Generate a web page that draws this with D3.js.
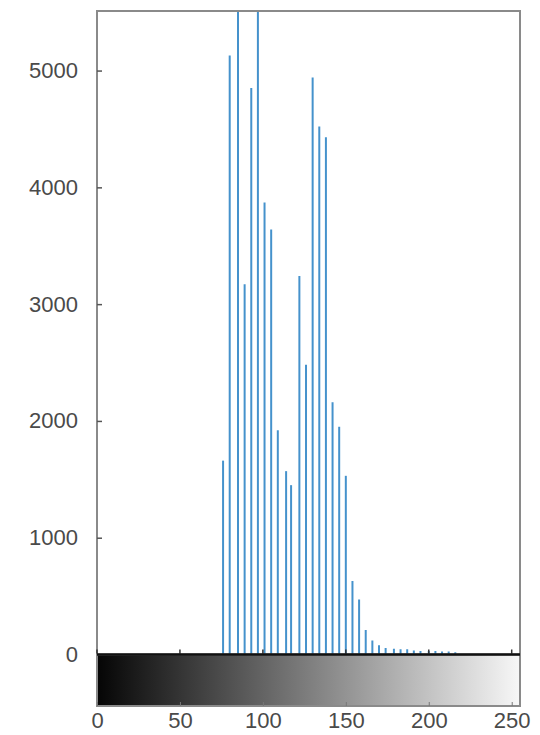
<!DOCTYPE html>
<html>
<head>
<meta charset="utf-8">
<script src="https://cdn.jsdelivr.net/npm/d3@7"></script>
<style>
  html, body { margin: 0; padding: 0; background: #fff; }
  svg { display: block; }
</style>
</head>
<body>
<div id="chart"></div>
<script>
// Histogram values (gray level -> pixel count)
const grayLevels = [76, 80, 85, 89, 93, 97, 101, 105, 109, 114, 117, 122, 126, 130, 134, 138, 142, 146,
  150, 154, 158, 162, 166, 170, 174, 179, 183, 187, 191, 195, 200, 204, 208, 212, 216];
const pixelCounts = [1660, 5130, 5900, 3170, 4850, 5800, 3870, 3640, 1920, 1570, 1450, 3240, 2480, 4940,
  4520, 4430, 2160, 1950, 1530, 630, 470, 210, 120, 80, 55, 50, 45, 45, 35, 30, 30, 30, 25, 25, 20];
const yTicks = [0, 1000, 2000, 3000, 4000, 5000];
const xTicks = [0, 50, 100, 150, 200, 250];

const width = 540;
const height = 735;
const plotLeft = 97, plotRight = 520;
const plotTop = 11, zeroY = 654.5;
const barBottom = 706;

const textColor = "#4a4a4a";
const frameColor = "#8a8a8a";
const stemColor = "#4592cc";

const svg = d3.select("#chart")
  .append("svg")
  .attr("width", width)
  .attr("height", height)
  .style("font-family", "'Liberation Sans', Arial, sans-serif");

// Scales
const x = d3.scaleLinear().domain([0, 255]).range([plotLeft, plotRight]);
const y = d3.scaleLinear().domain([0, 5510]).range([zeroY, plotTop]);

// Clip for stems that run past the top
const defs = svg.append("defs");
defs.append("clipPath")
  .attr("id", "plot-clip")
  .append("rect")
  .attr("x", plotLeft)
  .attr("y", plotTop)
  .attr("width", plotRight - plotLeft)
  .attr("height", zeroY - plotTop);

// Gray ramp for the colorbar
const grad = defs.append("linearGradient")
  .attr("id", "gray-ramp")
  .attr("x1", "0%").attr("x2", "100%")
  .attr("y1", "0%").attr("y2", "0%");
grad.append("stop").attr("offset", "0%").attr("stop-color", "#050505");
grad.append("stop").attr("offset", "100%").attr("stop-color", "#f7f7f7");

// Stems
svg.append("g")
  .attr("clip-path", "url(#plot-clip)")
  .selectAll("line")
  .data(grayLevels)
  .enter()
  .append("line")
  .attr("x1", d => x(d))
  .attr("x2", d => x(d))
  .attr("y1", y(0))
  .attr("y2", (d, i) => y(pixelCounts[i]))
  .style("stroke", stemColor)
  .style("stroke-width", 2);

// Axes frame (left, top, right)
svg.append("path")
  .attr("d", `M${plotLeft},${zeroY} L${plotLeft},${plotTop} L${plotRight},${plotTop} L${plotRight},${zeroY}`)
  .style("fill", "none")
  .style("stroke", frameColor)
  .style("stroke-width", 2);

// Y axis ticks + labels
const yAxis = d3.axisLeft(y)
  .tickValues(yTicks)
  .tickSizeInner(-5)
  .tickSizeOuter(0)
  .tickPadding(19)
  .tickFormat(d3.format("d"));

const gy = svg.append("g")
  .attr("transform", `translate(${plotLeft},0)`)
  .call(yAxis);
gy.select(".domain").remove();
gy.selectAll(".tick line").style("stroke", "#555").style("stroke-width", 1.5);
gy.selectAll(".tick text")
  .style("fill", textColor)
  .style("font-size", "22px");

// X ticks on the histogram baseline (inside)
svg.append("g")
  .selectAll("line")
  .data(xTicks)
  .enter()
  .append("line")
  .attr("x1", d => x(d))
  .attr("x2", d => x(d))
  .attr("y1", zeroY)
  .attr("y2", zeroY - 5)
  .style("stroke", "#333")
  .style("stroke-width", 1.5);

// Colorbar
svg.append("rect")
  .attr("x", plotLeft)
  .attr("y", zeroY)
  .attr("width", plotRight - plotLeft)
  .attr("height", barBottom - zeroY)
  .style("fill", "url(#gray-ramp)")
  .style("stroke", frameColor)
  .style("stroke-width", 2);

svg.append("line")
  .attr("x1", plotLeft)
  .attr("x2", plotRight)
  .attr("y1", zeroY)
  .attr("y2", zeroY)
  .style("stroke", "#111")
  .style("stroke-width", 2.5);

// X axis labels under the colorbar
const xAxis = d3.axisBottom(x)
  .tickValues(xTicks)
  .tickSizeInner(-4)
  .tickSizeOuter(0)
  .tickPadding(6);

const gx = svg.append("g")
  .attr("transform", `translate(0,${barBottom})`)
  .call(xAxis);
gx.select(".domain").remove();
gx.selectAll(".tick line").style("stroke", "#777").style("stroke-width", 1);
gx.selectAll(".tick text")
  .style("fill", textColor)
  .style("font-size", "22px");
</script>
</body>
</html>
